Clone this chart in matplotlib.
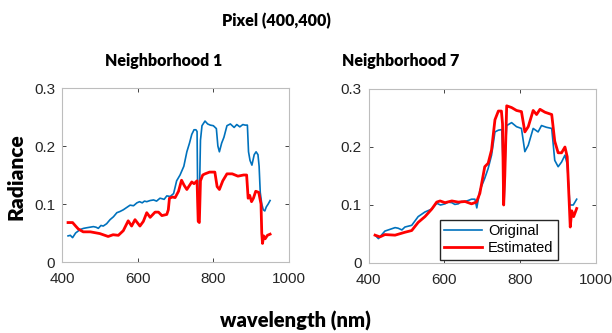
import numpy as np
from matplotlib import pyplot as plt

# Neighborhood 1
wl_orig_n1 = [416, 422, 428, 436, 448, 457, 465, 474, 483, 490, 496, 503, 509, 518, 527, 536, 545, 553, 562, 571, 580, 589,
              598, 605, 612, 618, 624, 633, 642, 650, 659, 665, 670, 677, 686, 695, 703, 712, 722, 730, 737, 743, 749, 754,
              757, 759, 762, 766, 770, 778, 785, 792, 800, 808, 812, 816, 822, 828, 836, 845, 855, 862, 870, 878, 884, 890,
              893, 897, 902, 908, 913, 918, 921, 924, 928, 932, 936, 940, 945, 950]
orig_n1 = [0.045, 0.046, 0.042, 0.050, 0.056, 0.058, 0.059, 0.060, 0.061, 0.060, 0.058, 0.063, 0.062, 0.066, 0.073, 0.078,
           0.085, 0.087, 0.090, 0.094, 0.098, 0.097, 0.102, 0.104, 0.102, 0.105, 0.104, 0.106, 0.107, 0.105, 0.110, 0.109,
           0.108, 0.114, 0.113, 0.118, 0.140, 0.150, 0.165, 0.190, 0.205, 0.220, 0.228, 0.228, 0.225, 0.090, 0.072, 0.210,
           0.235, 0.243, 0.238, 0.236, 0.235, 0.230, 0.200, 0.190, 0.205, 0.215, 0.235, 0.238, 0.232, 0.237, 0.233, 0.237,
           0.236, 0.236, 0.190, 0.175, 0.167, 0.185, 0.190, 0.185, 0.165, 0.120, 0.100, 0.090, 0.088, 0.095, 0.100, 0.106]

wl_est_n1 = [416, 428, 436, 443, 456, 475, 500, 522, 535, 549, 562, 575, 584, 593, 606, 615, 624, 633, 646, 655, 664, 677,
             681, 684, 692, 699, 708, 716, 723, 730, 737, 743, 749, 754, 757, 760, 763, 766, 772, 778, 790, 804, 810, 816,
             825, 836, 850, 865, 880, 888, 892, 896, 901, 906, 912, 920, 926, 928, 930, 933, 937, 943, 950]
est_n1 = [0.068, 0.068, 0.062, 0.057, 0.052, 0.052, 0.049, 0.044, 0.047, 0.046, 0.054, 0.071, 0.062, 0.073, 0.062, 0.070,
          0.085, 0.077, 0.086, 0.086, 0.080, 0.082, 0.090, 0.110, 0.112, 0.111, 0.122, 0.141, 0.132, 0.125, 0.132, 0.138,
          0.135, 0.138, 0.140, 0.070, 0.068, 0.140, 0.150, 0.152, 0.155, 0.155, 0.130, 0.125, 0.140, 0.152, 0.152, 0.148,
          0.150, 0.150, 0.110, 0.115, 0.104, 0.110, 0.122, 0.120, 0.100, 0.050, 0.032, 0.045, 0.040, 0.046, 0.048]

# Neighborhood 7
wl_orig_n7 = [417, 426, 443, 461, 470, 478, 488, 496, 514, 531, 549, 567, 580, 590, 602, 610, 620, 628, 637, 645, 655, 664,
              672, 681, 686, 694, 707, 716, 725, 734, 743, 752, 755, 758, 762, 765, 778, 791, 804, 813, 822, 835, 848, 857,
              870, 884, 892, 901, 910, 919, 925, 932, 941, 950]
orig_n7 = [0.048, 0.042, 0.055, 0.059, 0.061, 0.060, 0.057, 0.062, 0.065, 0.080, 0.088, 0.093, 0.103, 0.100, 0.102, 0.105,
           0.104, 0.101, 0.102, 0.106, 0.106, 0.108, 0.110, 0.110, 0.095, 0.125, 0.146, 0.163, 0.186, 0.226, 0.229, 0.230,
           0.180, 0.100, 0.200, 0.237, 0.242, 0.235, 0.232, 0.192, 0.203, 0.232, 0.226, 0.237, 0.234, 0.232, 0.177, 0.166,
           0.174, 0.186, 0.170, 0.100, 0.100, 0.110]

wl_est_n7 = [417, 430, 443, 470, 496, 514, 531, 549, 567, 580, 589, 602, 620, 637, 655, 672, 685, 694, 707, 716, 725, 734,
             743, 751, 754, 757, 760, 765, 778, 791, 804, 813, 822, 835, 844, 853, 866, 884, 892, 901, 910, 919, 925, 930,
             933, 937, 942, 950]
est_n7 = [0.048, 0.045, 0.049, 0.048, 0.053, 0.056, 0.070, 0.080, 0.093, 0.105, 0.107, 0.104, 0.107, 0.105, 0.106, 0.102,
          0.105, 0.120, 0.166, 0.172, 0.195, 0.247, 0.262, 0.262, 0.240, 0.100, 0.150, 0.271, 0.268, 0.263, 0.261, 0.226,
          0.235, 0.263, 0.256, 0.265, 0.260, 0.256, 0.210, 0.190, 0.190, 0.200, 0.183, 0.108, 0.062, 0.090, 0.080, 0.094]

panels = [("Neighborhood 1", wl_orig_n1, orig_n1, wl_est_n1, est_n1),
          ("Neighborhood 7", wl_orig_n7, orig_n7, wl_est_n7, est_n7)]

plt.rcParams['font.family'] = ['Liberation Sans', 'DejaVu Sans']
title_font = ['Lato', 'DejaVu Sans']

fig = plt.figure(figsize=(6.12, 3.33), dpi=100)
rects = [[62/612, 71/333, 227/612, 174/333], [368.6/612, 70/333, 227/612, 174/333]]
title_x = [164/612, 401/612]

for rect, tx, (name, wo, o, we, e) in zip(rects, title_x, panels):
    ax = fig.add_axes(rect)
    ax.plot(wo, o, color="#0072BD", linewidth=1.2, label="Original")
    ax.plot(we, e, color="#FF0000", linewidth=2.0, label="Estimated")
    ax.set_xlim(400, 1000)
    ax.set_ylim(0, 0.3)
    ax.set_xticks([400, 600, 800, 1000])
    ax.set_yticks([0, 0.1, 0.2, 0.3])
    ax.set_yticklabels(["0", "0.1", "0.2", "0.3"])
    ax.tick_params(direction="in", length=3, width=0.6, color="#262626", labelsize=11,
                   labelcolor="#262626", top=True, right=True)
    ax.tick_params(axis="x", pad=7)
    ax.tick_params(axis="y", pad=5)
    for s in ax.spines.values():
        s.set_color("#BDBDBD")
        s.set_linewidth(0.8)
    fig.text(tx, 1 - 61/333, name, ha="center", va="center", fontsize=11.5, fontweight="heavy", family=title_font)
    if name == "Neighborhood 7":
        ax.legend(loc="lower left", bbox_to_anchor=(0.315, 0.02), borderaxespad=0, fancybox=False,
                  edgecolor="#262626", framealpha=1, fontsize=10.5, handlelength=2.6, borderpad=0.3,
                  labelspacing=0.2, handletextpad=0.4)

fig.text(276/612, 1 - 21/333, "Pixel (400,400)", ha="center", va="center", fontsize=11.5, fontweight="heavy",
         family=title_font)
fig.text(15.5/612, 1 - 177/333, "Radiance", ha="center", va="center", rotation=90, fontsize=15, fontweight="heavy",
         family=title_font)
fig.text(295/612, 1 - 321/333, "wavelength (nm)", ha="center", va="center", fontsize=14.5, fontweight="heavy",
         family=title_font)

plt.savefig("out.png", dpi=100)
